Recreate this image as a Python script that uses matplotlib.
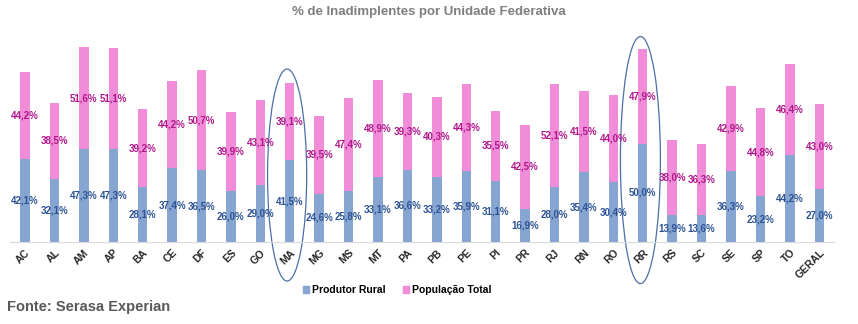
import matplotlib.pyplot as plt
from matplotlib.patches import Ellipse, Patch

plt.rcParams['font.family'] = ['Liberation Sans', 'DejaVu Sans']

ufs = ['AC', 'AL', 'AM', 'AP', 'BA', 'CE', 'DF', 'ES', 'GO', 'MA', 'MG', 'MS', 'MT', 'PA',
       'PB', 'PE', 'PI', 'PR', 'RJ', 'RN', 'RO', 'RR', 'RS', 'SC', 'SE', 'SP', 'TO', 'GERAL']
produtor_rural = [42.1, 32.1, 47.3, 47.3, 28.1, 37.4, 36.5, 26.0, 29.0, 41.5, 24.6, 25.8, 33.1, 36.6,
                  33.2, 35.9, 31.1, 16.9, 28.0, 35.4, 30.4, 50.0, 13.9, 13.6, 36.3, 23.2, 44.2, 27.0]
populacao_total = [44.2, 38.5, 51.6, 51.1, 39.2, 44.2, 50.7, 39.9, 43.1, 39.1, 39.5, 47.4, 48.9, 39.3,
                   40.3, 44.3, 35.5, 42.5, 52.1, 41.5, 44.0, 47.9, 38.0, 36.3, 42.9, 44.8, 46.4, 43.0]
destaques = ['MA', 'RR']

azul = '#87A5D1'
rosa = '#F18DD8'
azul_txt = '#2C5294'
rosa_txt = '#B0168A'

fig = plt.figure(figsize=(8.58, 3.24), dpi=100)
ax = fig.add_axes([0.012, 0.253, 0.96, 0.608])

x = list(range(len(ufs)))
largura = 0.32
ax.bar(x, produtor_rural, largura, color=azul)
ax.bar(x, populacao_total, largura, bottom=produtor_rural, color=rosa)

for i in x:
    pr = produtor_rural[i]
    pt = populacao_total[i]
    ax.text(i, pr / 2, f'{pr:.1f}%'.replace('.', ','), ha='center', va='center',
            fontsize=7, fontweight='bold', color=azul_txt)
    ax.text(i, pr + pt / 2, f'{pt:.1f}%'.replace('.', ','), ha='center', va='center',
            fontsize=7, fontweight='bold', color=rosa_txt)

# elipses de destaque
for uf in destaques:
    i = ufs.index(uf)
    if uf == 'MA':
        e = Ellipse((i - 0.09, 34), 1.33, 107.6)
    else:
        e = Ellipse((i - 0.08, 41.6), 1.36, 125.4)
    e.set_fill(False)
    e.set_edgecolor('#4D6EA8')
    e.set_linewidth(0.9)
    e.set_clip_on(False)
    ax.add_patch(e)

ax.set_xlim(-0.5, len(ufs) - 0.5)
ax.set_ylim(0, 100)
ax.set_yticks([])
ax.set_xticks(x)
ax.set_xticklabels(ufs, rotation=45, ha='right', rotation_mode='anchor',
                   fontsize=7.5, fontweight='bold', color='#262626')
ax.tick_params(axis='x', length=0, pad=4)
for lado in ['top', 'right', 'left']:
    ax.spines[lado].set_visible(False)
ax.spines['bottom'].set_color('#D9D9D9')

fig.text(0.5, 0.963, '% de Inadimplentes por Unidade Federativa', ha='center', va='center',
         fontsize=9.5, fontweight='bold', color='#7F7F7F')
fig.text(0.008, 0.052, 'Fonte: Serasa Experian', ha='left', va='center',
         fontsize=10.5, fontweight='bold', color='#595959')

handles = [Patch(color=azul, label='Produtor Rural'), Patch(color=rosa, label='População Total')]
fig.legend(handles=handles, loc='center', bbox_to_anchor=(0.463, 0.105), ncol=2, frameon=False,
           handlelength=0.6, handleheight=0.6, handletextpad=0.3, columnspacing=1.6,
           prop={'size': 7.5, 'weight': 'bold'})

plt.savefig('out.png', dpi=100)
